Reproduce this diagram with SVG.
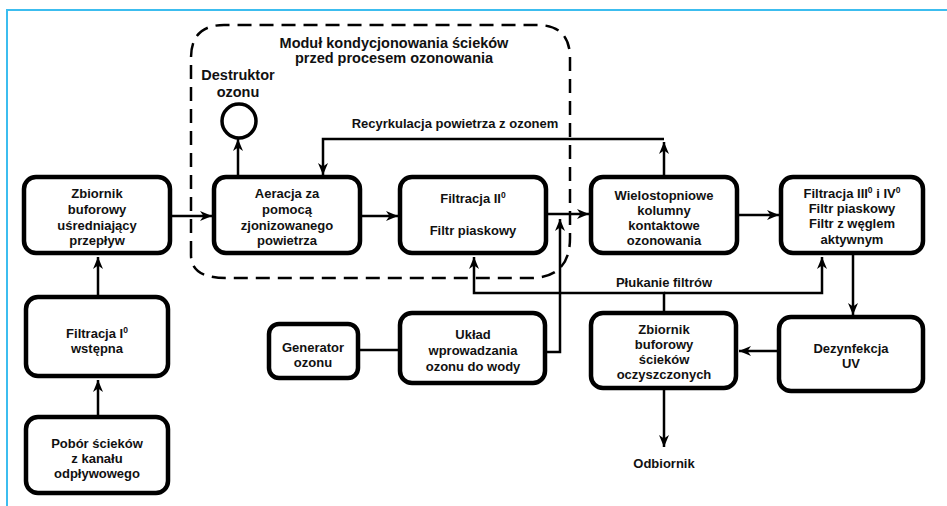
<svg xmlns="http://www.w3.org/2000/svg" width="947" height="506" viewBox="0 0 947 506">
<style>
.box{fill:#fff;stroke:#000;stroke-width:4.5}
.t{font-family:"Liberation Sans",Arial,sans-serif;font-weight:bold;font-size:13px;fill:#111;text-anchor:middle}
.big{font-size:14.5px}
.c{fill:none;stroke:#000;stroke-width:2.5}
.a{marker-end:url(#arr)}
.dash{fill:none;stroke:#000;stroke-width:2.5;stroke-dasharray:14 8}
.sup{font-size:8.5px}
</style>
<defs>
<marker id="arr" viewBox="0 0 12 10" refX="12" refY="5" markerWidth="12" markerHeight="10" orient="auto" markerUnits="userSpaceOnUse">
<path d="M0,0 L12,5 L0,10 L3.5,5 z" fill="#000"/>
</marker>
</defs>
<rect width="947" height="506" fill="#fff"/>
<path d="M7,506 V10 H947" fill="none" stroke="#3cbdef" stroke-width="2"/>

<g id="module">
<path class="dash" d="M191,255 V58 Q191,25 224,25 H537 Q570,25 570,58 V238 Q570,278 530,278 H226 Q191,278 191,255"/>
<text class="t big" x="394" y="48">Moduł kondycjonowania ścieków</text>
<text class="t big" x="394" y="63">przed procesem ozonowania</text>
</g>

<g id="connectors">
<path class="c a" d="M98,295 V257"/>
<path class="c a" d="M98,415 V380"/>
<path class="c a" d="M172,216 H212"/>
<path class="c a" d="M362,216 H398"/>
<path class="c a" d="M548,214 H589"/>
<path class="c a" d="M739,215 H779"/>
<path class="c a" d="M853,255 V315"/>
<path class="c a" d="M777,351 H739"/>
<path class="c a" d="M664,390 V447"/>
<path class="c a" d="M238,175 V139"/>
<path class="c a" d="M664,175 V142"/>
<path class="c a" d="M664,139 H323 V175"/>
<path class="c a" d="M547,352 H560 V219"/>
<path class="c" d="M360,350 H398"/>
<path class="c a" d="M664,311 V293 H474 V257"/>
<path class="c a" d="M664,293 H822 V257"/>
<text class="t" x="455" y="128">Recyrkulacja powietrza z ozonem</text>
<text class="t" x="664" y="287">Płukanie filtrów</text>
</g>

<g id="destruktor">
<circle cx="239" cy="121" r="17" fill="#fff" stroke="#000" stroke-width="3.5"/>
<text class="t big" x="238" y="80">Destruktor</text>
<text class="t big" x="238" y="97">ozonu</text>
</g>

<g id="zbiornik-buforowy">
<rect class="box" x="24" y="177" width="146" height="76" rx="12"/>
<text class="t" x="97" y="198">Zbiornik</text>
<text class="t" x="97" y="214">buforowy</text>
<text class="t" x="97" y="230">uśredniający</text>
<text class="t" x="97" y="245">przepływ</text>
</g>

<g id="aeracja">
<rect class="box" x="214" y="177" width="146" height="76" rx="12"/>
<text class="t" x="287" y="198">Aeracja za</text>
<text class="t" x="287" y="214">pomocą</text>
<text class="t" x="287" y="230">zjonizowanego</text>
<text class="t" x="287" y="245">powietrza</text>
</g>

<g id="filtracja-2">
<rect class="box" x="400" y="177" width="146" height="76" rx="12"/>
<text class="t" x="473" y="203">Filtracja II<tspan class="sup" dy="-5">0</tspan></text>
<text class="t" x="473" y="235">Filtr piaskowy</text>
</g>

<g id="kolumny">
<rect class="box" x="591" y="177" width="146" height="76" rx="12"/>
<text class="t" x="664" y="200">Wielostopniowe</text>
<text class="t" x="664" y="215">kolumny</text>
<text class="t" x="664" y="230">kontaktowe</text>
<text class="t" x="664" y="245">ozonowania</text>
</g>

<g id="filtracja-3-4">
<rect class="box" x="781" y="177" width="142" height="76" rx="12"/>
<text class="t" x="852" y="198">Filtracja III<tspan class="sup" dy="-5">0</tspan><tspan dy="5"> i IV</tspan><tspan class="sup" dy="-5">0</tspan></text>
<text class="t" x="852" y="213">Filtr piaskowy</text>
<text class="t" x="852" y="228">Filtr z węglem</text>
<text class="t" x="852" y="244">aktywnym</text>
</g>

<g id="filtracja-1">
<rect class="box" x="26" y="297" width="142" height="79" rx="12"/>
<text class="t" x="97" y="338">Filtracja I<tspan class="sup" dy="-5">0</tspan></text>
<text class="t" x="97" y="353">wstępna</text>
</g>

<g id="pobor">
<rect class="box" x="26" y="417" width="142" height="76" rx="12"/>
<text class="t" x="97" y="448">Pobór ścieków</text>
<text class="t" x="97" y="463">z kanału</text>
<text class="t" x="97" y="478">odpływowego</text>
</g>

<g id="generator">
<rect class="box" x="269" y="324" width="89" height="54" rx="10"/>
<text class="t" x="313" y="352">Generator</text>
<text class="t" x="313" y="367">ozonu</text>
</g>

<g id="uklad">
<rect class="box" x="400" y="313" width="145" height="70" rx="12"/>
<text class="t" x="473" y="339">Układ</text>
<text class="t" x="473" y="355">wprowadzania</text>
<text class="t" x="473" y="371">ozonu do wody</text>
</g>

<g id="zbiornik-oczyszczonych">
<rect class="box" x="591" y="313" width="145" height="75" rx="12"/>
<text class="t" x="664" y="334">Zbiornik</text>
<text class="t" x="664" y="349">buforowy</text>
<text class="t" x="664" y="364">ścieków</text>
<text class="t" x="664" y="379">oczyszczonych</text>
</g>

<g id="dezynfekcja">
<rect class="box" x="779" y="317" width="144" height="74" rx="12"/>
<text class="t" x="851" y="353">Dezynfekcja</text>
<text class="t" x="851" y="368">UV</text>
</g>

<g id="odbiornik">
<text class="t" x="664" y="468">Odbiornik</text>
</g>
</svg>
